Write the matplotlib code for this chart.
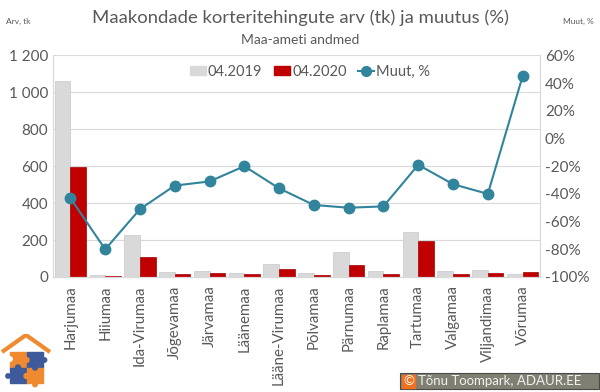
import matplotlib.pyplot as plt
import matplotlib.patches as mpatches
from matplotlib.lines import Line2D
from matplotlib.ticker import FuncFormatter, MultipleLocator
import numpy as np

plt.rcParams['font.family'] = ['Lato', 'DejaVu Sans']

# Data
counties = ["Harjumaa", "Hiiumaa", "Ida-Virumaa", "Jõgevamaa", "Järvamaa", "Läänemaa",
            "Lääne-Virumaa", "Põlvamaa", "Pärnumaa", "Raplamaa", "Tartumaa", "Valgamaa",
            "Viljandimaa", "Võrumaa"]
deals_2019 = [1060, 10, 226, 25, 31, 22, 69, 22, 134, 31, 244, 31, 36, 14]
deals_2020 = [597, 5, 108, 16, 19, 15, 42, 12, 65, 15, 197, 18, 19, 25]
change_pct = [-43, -80, -51, -34, -31, -20, -36, -48, -50, -49, -19, -33, -40, 45]

grey = '#D9D9D9'
red = '#C00000'
teal = '#31849B'
txt = '#595959'

fig = plt.figure(figsize=(6, 3.92), dpi=100)
ax = fig.add_axes([53/600, 1-277/392, 487/600, (277-55.4)/392])

x = np.arange(len(counties))
w = 0.45
ax.bar(x - w/2, deals_2019, w, color=grey, edgecolor='#C8C8C8', linewidth=0.5, zorder=2)
ax.bar(x + w/2, deals_2020, w, color=red, edgecolor='#A00000', linewidth=0.5, zorder=2)
ax.set_xlim(-0.5, len(counties) - 0.5)
ax.set_ylim(0, 1200)
ax.yaxis.set_major_locator(MultipleLocator(200))
ax.yaxis.set_major_formatter(FuncFormatter(lambda v, p: f"{int(v):,}".replace(",", " ")))
ax.grid(axis='y', color='#D9D9D9', linewidth=0.8, zorder=0)
ax.set_xticks(x)
ax.set_xticklabels(counties, rotation=90, fontsize=10.8, color=txt)
ax.tick_params(axis='y', length=0, colors=txt, labelsize=11)
ax.tick_params(axis='x', length=0, colors=txt, pad=6)
for s in ax.spines.values():
    s.set_color('#D9D9D9')
ax.spines['top'].set_visible(False)

ax2 = ax.twinx()
ax2.plot(x, np.array(change_pct) / 100, color=teal, linewidth=1.5, marker='o',
         markersize=7.5, zorder=3)
ax2.set_ylim(-1.0, 0.6)
ax2.yaxis.set_major_locator(MultipleLocator(0.2))
ax2.yaxis.set_major_formatter(FuncFormatter(lambda v, p: f"{round(v*100):d}%"))
ax2.tick_params(axis='y', length=0, colors=txt, labelsize=11)
for s in ax2.spines.values():
    s.set_color('#D9D9D9')
ax2.spines['top'].set_visible(False)

handles = [mpatches.Patch(color=grey, label='04.2019'),
           mpatches.Patch(color=red, label='04.2020'),
           Line2D([0], [0], color=teal, linewidth=1.5, marker='o', markersize=7, label='Muut, %')]
fig.legend(handles=handles, loc='center', bbox_to_anchor=(310/600, 1-72/392), ncol=3,
           frameon=False, fontsize=10.5, labelcolor=txt, handlelength=1.1, handleheight=0.6,
           handletextpad=0.15, columnspacing=0.8)

fig.text(0.5, 1-18/392, "Maakondade korteritehingute arv (tk) ja muutus (%)",
         ha='center', va='center', fontsize=13.3, color=txt)
fig.text(0.5, 1-40/392, "Maa-ameti andmed", ha='center', va='center', fontsize=10, color=txt)
fig.text(6/600, 1-21/392, "Arv, tk", ha='left', va='center', fontsize=6, color=txt)
fig.text(594/600, 1-21/392, "Muut, %", ha='right', va='center', fontsize=6, color=txt)

# logo
lg = fig.add_axes([0, 0, 52/600, 58/392])
lg.set_xlim(0, 52)
lg.set_ylim(0, 58)
lg.axis('off')
orange = '#F08A30'
blue = '#3F5A9A'
lg.plot([2, 26, 50], [40, 57, 40], color=orange, linewidth=3, solid_capstyle='butt')
for (x0, y0, c) in [(10, 24.5, orange), (26.5, 24.5, blue), (10, 9, blue), (26.5, 9, orange)]:
    lg.add_patch(mpatches.Rectangle((x0, y0), 16.5, 15.5, color=c))
lg.add_patch(mpatches.Circle((26.5, 32), 2.5, color=orange))
lg.add_patch(mpatches.Circle((18, 24.5), 2.5, color=blue))
lg.add_patch(mpatches.Circle((35, 24.5), 2.5, color=blue))
lg.add_patch(mpatches.Circle((26.5, 16), 2.5, color=orange))
lg.add_patch(mpatches.Circle((8, 16), 2.2, color=blue))
lg.add_patch(mpatches.Circle((44.5, 32), 2.2, color=blue))
lg.add_patch(mpatches.Circle((10, 33), 2.2, color='white'))
lg.add_patch(mpatches.Circle((35, 7.5), 2.2, color=orange))

# copyright box
fig.patches.append(mpatches.Rectangle((400/600, 1-389/392), 199/600, 16/392,
                                      transform=fig.transFigure, facecolor='#7F7F72',
                                      edgecolor='#4A4A4A', linewidth=0.8))
fig.patches.append(mpatches.Rectangle((402/600, 1-387.5/392), 13/600, 13/392,
                                      transform=fig.transFigure, color='#F07020'))
fig.text(408.5/600, 1-381/392, "©", ha='center', va='center', fontsize=9.5, color='white')
fig.text(418/600, 1-381/392, "Tõnu Toompark, ADAUR.EE", ha='left', va='center',
         fontsize=9.5, color='#F2F2F2')

fig.savefig('out.png', dpi=100)
